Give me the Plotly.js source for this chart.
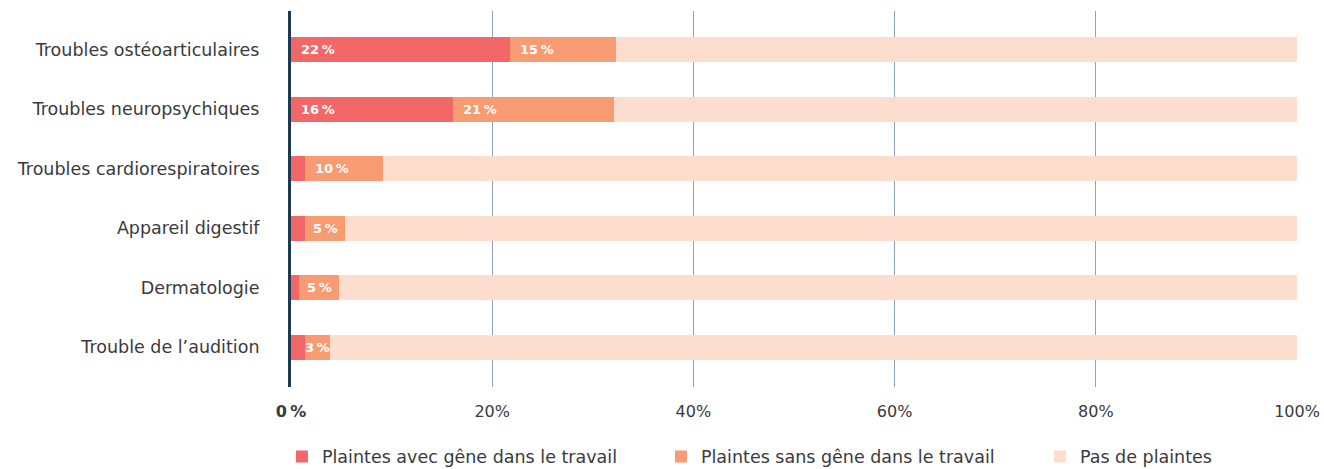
<!DOCTYPE html>
<html>
<head>
<meta charset="utf-8">
<script src="https://cdn.plot.ly/plotly-3.0.1.min.js"></script>
<style>
  html, body { margin: 0; padding: 0; background: #ffffff; }
  #chart { width: 1324px; height: 469px; }
</style>
</head>
<body>
<div id="chart"></div>
<script>
const categories = [
  "Troubles ostéoarticulaires",
  "Troubles neuropsychiques",
  "Troubles cardiorespiratoires",
  "Appareil digestif",
  "Dermatologie",
  "Trouble de l’audition"
];
const seriesNames = [
  "Plaintes avec gêne dans le travail",
  "Plaintes sans gêne dans le travail",
  "Pas de plaintes"
];
const avecGene = [21.8, 16.1, 1.4, 1.4, 0.8, 1.4];
const sansGene = [10.5, 16.0, 7.7, 4.0, 4.0, 2.5];
const pasDePlaintes = [67.7, 67.9, 90.9, 94.6, 95.2, 96.1];
const avecLabels = ["22\u202F%", "16\u202F%", "", "", "", ""];
const sansLabels = ["15\u202F%", "21\u202F%", "10\u202F%", "5\u202F%", "5\u202F%", "3\u202F%"];
const tickVals = [0, 20, 40, 60, 80, 100];
const tickLabels = ["<b>0\u202F%</b>", "20%", "40%", "60%", "80%", "100%"];

const colors = ["#F26767", "#F89A72", "#FDDDCD"];
const FONT = "DejaVu Sans, sans-serif";
const TEXT_COLOR = "#3a3a3a";

const seriesValues = [avecGene, sansGene, pasDePlaintes];
const traces = seriesValues.map((vals, k) => ({
  type: "bar",
  orientation: "h",
  name: seriesNames[k],
  y: categories,
  x: vals,
  width: 0.42,
  marker: { color: colors[k], line: { width: 0 } },
  hoverinfo: "skip"
}));

// value labels inside segments
const annotations = [];
function addLabels(starts, widths, labels) {
  labels.forEach((t, i) => {
    if (!t) return;
    const narrow = widths[i] < 6;
    annotations.push({
      xref: "x", yref: "y",
      x: narrow ? starts[i] + widths[i] / 2 : starts[i],
      y: categories[i],
      text: "<b>" + t + "</b>",
      showarrow: false,
      xanchor: narrow ? "center" : "left",
      xshift: narrow ? 0 : 8,
      font: { family: FONT, size: 13, color: "#ffffff" }
    });
  });
}
addLabels(categories.map(() => 0), avecGene, avecLabels);
addLabels(avecGene, sansGene, sansLabels);

const layout = {
  width: 1324,
  height: 469,
  margin: { l: 291, r: 27, t: 11, b: 82, autoexpand: false },
  paper_bgcolor: "#ffffff",
  plot_bgcolor: "#ffffff",
  barmode: "stack",
  font: { family: FONT, size: 16, color: TEXT_COLOR },
  showlegend: true,
  legend: {
    orientation: "h",
    x: -0.009, xanchor: "left",
    y: -0.137, yanchor: "top",
    entrywidth: 334,
    entrywidthmode: "pixels",
    font: { family: FONT, size: 17.5, color: TEXT_COLOR },
    traceorder: "normal"
  },
  xaxis: {
    range: [0, 100],
    tickvals: tickVals,
    ticktext: tickLabels,
    showgrid: true,
    gridcolor: "#8EA2BD",
    gridwidth: 1,
    zeroline: false,
    showline: false,
    ticks: "",
    ticklabelstandoff: 13,
    tickfont: { family: FONT, size: 16, color: TEXT_COLOR },
    fixedrange: true
  },
  yaxis: {
    type: "category",
    autorange: false,
    range: [5.668, -0.652],
    showgrid: false,
    zeroline: false,
    showline: true,
    linecolor: "#1C3B53",
    linewidth: 3,
    ticks: "",
    ticklabelstandoff: 25,
    tickfont: { family: FONT, size: 17.5, color: TEXT_COLOR },
    fixedrange: true
  },
  annotations: annotations
};

Plotly.newPlot("chart", traces, layout, { displayModeBar: false, staticPlot: true });
</script>
</body>
</html>
